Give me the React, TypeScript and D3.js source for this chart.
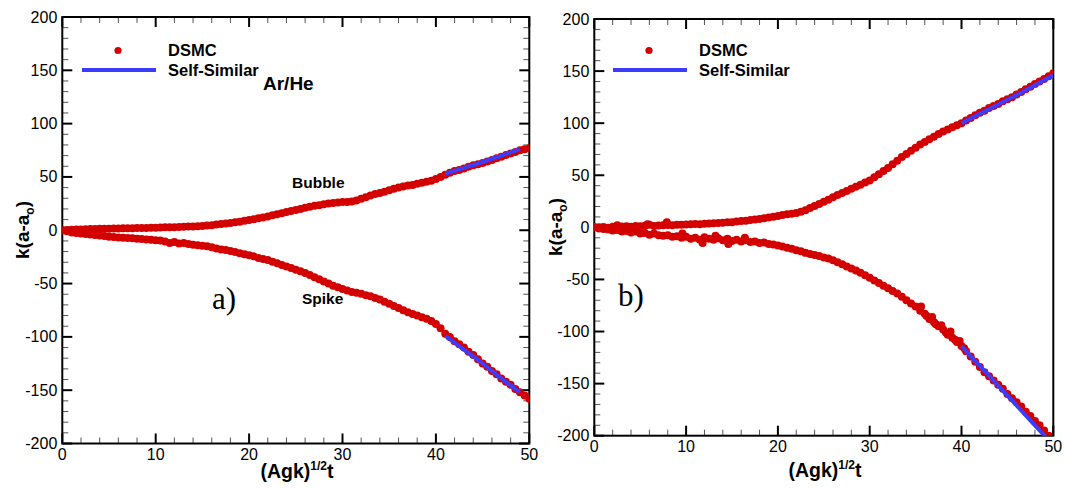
import React, { useEffect, useRef } from "react";
import * as d3 from "d3";

// sample grid of (Agk)^1/2 t used by the DSMC series
const tGrid = d3.range(0, 50.001, 0.5);

const bubbleA = [
  0, 0.3, 0.5, 0.7, 0.8, 1.0, 1.1, 1.2, 1.3, 1.4, 1.5, 1.6, 1.7, 1.8, 1.8, 1.9, 2.0, 2.1, 2.2, 2.3,
  2.4, 2.5, 2.7, 2.8, 2.9, 3.1, 3.2, 3.4, 3.6, 3.8, 4.0, 4.4, 4.8, 5.3, 5.8, 6.3, 6.8, 7.4, 8.0, 8.8,
  9.5, 10.3, 11.2, 12.0, 13.0, 14.0, 15.0, 16.0, 17.0, 18.0, 19.0, 20.0, 21.0, 22.0, 23.0, 23.5, 24.5, 25.0, 25.5, 26.0,
  26.5, 26.5, 27.0, 28.0, 29.5, 31.0, 32.5, 34.0, 35.0, 36.0, 37.5, 39.0, 40.0, 41.0, 42.0, 42.5, 43.5, 44.5, 45.5, 46.5,
  48.0, 50.0, 52.0, 54.0, 55.5, 56.5, 58.0, 59.5, 61.0, 62.0, 63.0, 64.5, 66.0, 67.5, 69.0, 70.5, 72.0, 73.5, 75.0, 76.0,
  77.0,
];

const spikeA = [
  0, -1, -2, -2.5, -3, -3.5, -4, -4.5, -5, -5.5, -6, -6.3, -6.7, -7, -7.3, -7.6, -8, -8.3, -8.6, -9,
  -9.3, -9.7, -10.5, -12, -11, -12.5, -12, -13, -13.5, -14, -14.5, -15, -16, -17, -18, -18.5, -19.5, -20.5, -21.5, -22.5,
  -23.5, -24.5, -26, -27, -28, -29.5, -31, -32.5, -34, -35.5, -37, -38.5, -40, -42, -44, -46, -48, -50, -52, -53.5,
  -55, -56.5, -58, -58.5, -59.5, -61, -62, -63.5, -65, -67, -69, -71, -73, -75, -77, -78.5, -80, -81.5, -83, -85,
  -88, -92, -97, -100, -104, -107, -110, -114, -117, -121, -125, -128, -132, -135, -139, -142, -145, -149, -152, -155,
  -158,
];

const bubbleB = [
  0, 0.2, 0.3, -0.5, 0.5, 0.4, 0.8, 1.0, 0.6, 1.2, 1.0, 1.5, 2.5, 1.4, 1.8, 2.0, 2.2, 2.0, 2.4, 2.6,
  2.8, 3.0, 3.2, 3.0, 3.5, 3.8, 4.0, 4.2, 4.5, 4.8, 5.0, 5.5, 6.0, 6.3, 7.0, 7.5, 8.0, 8.8, 9.5, 10.2,
  11.0, 11.8, 12.5, 13.0, 13.8, 15.0, 16.5, 18.5, 20.5, 22.5, 24.5, 26.5, 29, 31, 33, 35, 37, 39, 41, 43,
  45, 48, 51, 54, 57, 60.5, 64, 67.5, 70.5, 73.5, 76.5, 79.5, 82, 84.5, 87, 89.5, 92, 94, 96, 98,
  100, 102.5, 105, 107.5, 110, 112, 114.5, 116.5, 118.5, 121, 123, 125, 127.5, 130, 132.5, 135, 137.5, 140, 142.5, 145,
  148,
];

const spikeB = [
  0, -1, -1.5, -2, -3, -2.5, -4, -3.5, -5, -4, -6, -5.5, -7, -6, -7.5, -8, -7.5, -9, -8.5, -10,
  -9, -11, -10, -12, -9.5, -11, -12, -10.5, -12.5, -11, -13, -12, -13.5, -12.5, -14, -13.5, -15, -14.5, -16, -16.5,
  -17.5, -18.5, -19.5, -20.5, -22, -23, -24.5, -25.5, -26.5, -27.5, -29, -30, -31.5, -33.5, -35.5, -37.5, -39.5, -41.5, -43.5, -46,
  -48.5, -51, -53.5, -56, -58.5, -61, -63.5, -66.5, -70, -73, -76, -80, -83, -88, -91, -95, -98, -103, -106, -110,
  -114, -119, -124, -129, -134, -139, -143, -147, -151, -155, -160, -164, -168, -172, -177, -181, -186, -190, -195, -200,
];

// extra scattered DSMC points in panel b
const scatterBx = [2.5, 4.2, 5.8, 7.9, 9.6, 11.8, 13.2, 14.6, 16.4, 35.6, 36.2, 36.8, 37.2, 37.8, 38.3, 38.8, 39.3, 39.8, 40.3];
const scatterBy = [2, -3, 3, 5, -6, -15, -8, -16, -10, -76, -85, -86, -93, -94, -101, -100, -108, -109, -116];

// self-similar solution segments
const selfA_t = [41, 43, 45, 47, 49];
const selfA_bubble = [53, 58.5, 64, 70, 76];
const selfA_spike = [-99, -112, -125, -139, -152];
const selfB_t = [40, 42, 44, 46, 48, 50];
const selfB_bubble = [100, 109, 118, 127, 136.5, 146];
const selfB_spike = [-114, -133, -152, -171, -190, -209];

const xTicks = [0, 10, 20, 30, 40, 50];
const yTicks = [-200, -150, -100, -50, 0, 50, 100, 150, 200];

const RED = "#d40000";
const BLUE = "#3c3cff";
const SANS = "'Liberation Sans', Arial, Helvetica, sans-serif";

type Panel = {
  id: string;
  left: number; right: number; top: number; bottom: number;
  rightTicks: boolean;
  bubble: number[]; spike: number[];
  sx: number[]; sy: number[];
  selfT: number[]; selfBubble: number[]; selfSpike: number[];
  legendX: number;
  tag: string; tagX: number; tagY: number;
  yLabelX: number; yLabelY: number; xLabelX: number; xLabelY: number;
  notes: boolean;
};

function drawPanel(svg: d3.Selection<SVGSVGElement, unknown, null, undefined>, p: Panel) {
  const x = d3.scaleLinear().domain([0, 50]).range([p.left, p.right]);
  const y = d3.scaleLinear().domain([-200, 200]).range([p.bottom, p.top]);
  const g = svg.append("g");

  g.append("clipPath").attr("id", "clip" + p.id)
    .append("rect").attr("x", p.left).attr("y", p.top)
    .attr("width", p.right - p.left).attr("height", p.bottom - p.top);

  // minor / major ticks, inward
  const xMinor = d3.range(0, 50.001, 2);
  const yMinor = d3.range(-200, 200.001, 10);
  xMinor.forEach((v) => {
    const major = v % 10 === 0;
    const len = major ? 10 : 6;
    g.append("line").attr("x1", x(v)).attr("x2", x(v)).attr("y1", p.bottom).attr("y2", p.bottom - len)
      .attr("stroke", major ? "#000" : "#555").attr("stroke-width", major ? 2 : 1);
    g.append("line").attr("x1", x(v)).attr("x2", x(v)).attr("y1", p.top).attr("y2", p.top + len)
      .attr("stroke", major ? "#000" : "#555").attr("stroke-width", major ? 2 : 1);
  });
  yMinor.forEach((v) => {
    const major = v % 50 === 0;
    const len = major ? 10 : 6;
    g.append("line").attr("x1", p.left).attr("x2", p.left + len).attr("y1", y(v)).attr("y2", y(v))
      .attr("stroke", major ? "#000" : "#555").attr("stroke-width", major ? 2 : 1);
    if (p.rightTicks) {
      g.append("line").attr("x1", p.right).attr("x2", p.right - len).attr("y1", y(v)).attr("y2", y(v))
        .attr("stroke", major ? "#000" : "#555").attr("stroke-width", major ? 2 : 1);
    }
  });

  g.append("rect").attr("x", p.left).attr("y", p.top)
    .attr("width", p.right - p.left).attr("height", p.bottom - p.top)
    .attr("fill", "none").attr("stroke", "#000").attr("stroke-width", 2);

  // tick labels
  g.selectAll(".xl").data(xTicks).enter().append("text")
    .attr("x", (d) => x(d)).attr("y", p.bottom + 16.5)
    .attr("text-anchor", "middle").attr("font-family", SANS).attr("font-size", 16)
    .text((d) => d);
  g.selectAll(".yl").data(yTicks).enter().append("text")
    .attr("x", p.left - 5).attr("y", (d) => y(d) + 5.5)
    .attr("text-anchor", "end").attr("font-family", SANS).attr("font-size", 16)
    .text((d) => d);

  // DSMC points
  const data = g.append("g").attr("clip-path", `url(#clip${p.id})`);
  const pts: [number, number][] = [];
  p.bubble.forEach((v, i) => pts.push([tGrid[i], v]));
  p.spike.forEach((v, i) => pts.push([tGrid[i], v]));
  p.sx.forEach((v, i) => pts.push([v, p.sy[i]]));
  data.selectAll("circle").data(pts).enter().append("circle")
    .attr("cx", (d) => x(d[0])).attr("cy", (d) => y(d[1])).attr("r", 4).attr("fill", RED);

  const line = d3.line<[number, number]>().x((d) => x(d[0])).y((d) => y(d[1])).curve(d3.curveMonotoneX);
  [p.selfBubble, p.selfSpike].forEach((arr) => {
    data.append("path").datum(arr.map((v, i) => [p.selfT[i], v] as [number, number]))
      .attr("d", line).attr("fill", "none").attr("stroke", BLUE).attr("stroke-width", 4);
  });

  // legend
  g.append("circle").attr("cx", p.legendX + 36).attr("cy", 50.5).attr("r", 3.6).attr("fill", RED);
  g.append("line").attr("x1", p.legendX).attr("x2", p.legendX + 74).attr("y1", 70).attr("y2", 70)
    .attr("stroke", BLUE).attr("stroke-width", 4);
  g.append("text").attr("x", p.legendX + 86).attr("y", 55.5).attr("font-family", SANS)
    .attr("font-weight", "bold").attr("font-size", 16.5).text("DSMC");
  g.append("text").attr("x", p.legendX + 86).attr("y", 75.5).attr("font-family", SANS)
    .attr("font-weight", "bold").attr("font-size", 16.5).text("Self-Similar");

  if (p.notes) {
    g.append("text").attr("x", 263).attr("y", 89.5).attr("font-family", SANS)
      .attr("font-weight", "bold").attr("font-size", 19).text("Ar/He");
    g.append("text").attr("x", 292).attr("y", 188).attr("font-family", SANS)
      .attr("font-weight", "bold").attr("font-size", 15.5).text("Bubble");
    g.append("text").attr("x", 302).attr("y", 304).attr("font-family", SANS)
      .attr("font-weight", "bold").attr("font-size", 15.5).text("Spike");
  }

  g.append("text").attr("x", p.tagX).attr("y", p.tagY)
    .attr("font-family", "'Liberation Serif', 'Times New Roman', serif").attr("font-size", 31).text(p.tag);

  // axis titles
  const xt = g.append("text").attr("x", p.xLabelX).attr("y", p.xLabelY).attr("text-anchor", "middle")
    .attr("font-family", SANS).attr("font-weight", "bold").attr("font-size", 19.5);
  xt.append("tspan").text("(Agk)");
  xt.append("tspan").attr("font-size", 12).attr("dy", -8).text("1/2");
  xt.append("tspan").attr("dy", 8).text("t");

  const yt = g.append("text").attr("transform", `translate(${p.yLabelX},${p.yLabelY}) rotate(-90)`)
    .attr("text-anchor", "middle").attr("font-family", SANS).attr("font-weight", "bold").attr("font-size", 19);
  yt.append("tspan").text("k(a-a");
  yt.append("tspan").attr("font-size", 12).attr("dy", 5).text("o");
  yt.append("tspan").attr("dy", -5).text(")");
}

export default function App() {
  const ref = useRef<SVGSVGElement>(null);

  useEffect(() => {
    const svg = d3.select(ref.current!);
    svg.selectAll("*").remove();
    drawPanel(svg as any, {
      id: "a", left: 62.3, right: 529.3, top: 17, bottom: 443.5, rightTicks: true,
      bubble: bubbleA, spike: spikeA, sx: [], sy: [],
      selfT: selfA_t, selfBubble: selfA_bubble, selfSpike: selfA_spike,
      legendX: 82, tag: "a)", tagX: 212, tagY: 309,
      yLabelX: 29, yLabelY: 230, xLabelX: 297, xLabelY: 478, notes: true,
    });
    drawPanel(svg as any, {
      id: "b", left: 594.3, right: 1053.3, top: 19, bottom: 435.7, rightTicks: false,
      bubble: bubbleB, spike: spikeB, sx: scatterBx, sy: scatterBy,
      selfT: selfB_t, selfBubble: selfB_bubble, selfSpike: selfB_spike,
      legendX: 613, tag: "b)", tagX: 618, tagY: 306,
      yLabelX: 562, yLabelY: 227, xLabelX: 825, xLabelY: 477, notes: false,
    });
  }, []);

  return (
    <svg ref={ref} width={1065} height={489}
      style={{ position: "absolute", left: 0, top: 0, background: "#fff" }} />
  );
}
